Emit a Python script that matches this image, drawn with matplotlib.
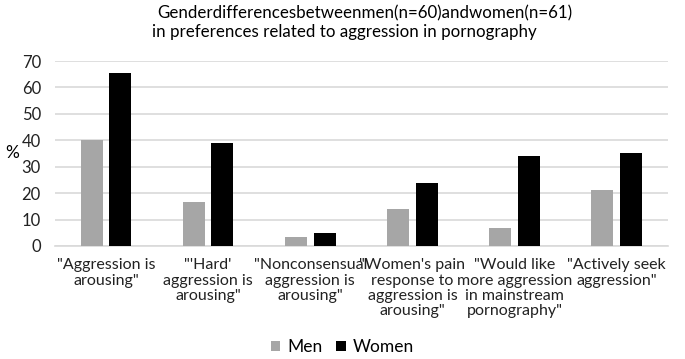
import numpy as np
import matplotlib.pyplot as plt

plt.rcParams['font.family'] = ['Lato', 'DejaVu Sans']

categories = ['"Aggression is\narousing"',
              '"\'Hard\'\naggression is\narousing"',
              '"Nonconsensual\naggression is\narousing"',
              '"Women\'s pain\nresponse to\naggression is\narousing"',
              '"Would like\nmore aggression\nin mainstream\npornography"',
              '"Actively seek\naggression"']
men = [40, 16.5, 3.3, 13.8, 6.6, 21]
women = [65.5, 39, 5, 23.7, 34.2, 35]

fig = plt.figure(figsize=(6.85, 3.59), dpi=100)
ax = fig.add_axes([0.080, 0.315, 0.895, 0.515])

x = np.arange(len(categories))
w = 0.215
off = 0.14
ax.bar(x - off, men, w, color='#a6a6a6', label='Men', zorder=3)
ax.bar(x + off, women, w, color='black', label='Women', zorder=3)

ax.set_xlim(-0.5, len(categories) - 0.5)
ax.set_ylim(0, 70)
ax.set_yticks(range(0, 71, 10))
ax.yaxis.grid(True, color='#d9d9d9', linewidth=1.2, zorder=0)
for s in ['top', 'right', 'left']:
    ax.spines[s].set_visible(False)
ax.spines['bottom'].set_color('#d9d9d9')
ax.spines['bottom'].set_linewidth(1.2)
ax.tick_params(axis='both', length=0, labelsize=11.5, colors='#222222')
ax.tick_params(axis='x', pad=9)
ax.tick_params(axis='y', pad=10)
ax.set_yticklabels([str(v) for v in range(0, 71, 10)], fontsize=12)
ax.set_xticks(x)
ax.set_xticklabels(categories, linespacing=1.12)
ax.set_ylabel('%', rotation=0, fontsize=12.5, va='center')
ax.yaxis.set_label_coords(-0.07, 0.5)

fig.text(0.533, 0.963, 'Genderdifferencesbetweenmen(n=60)andwomen(n=61)',
         ha='center', va='center', fontsize=12.2)
fig.text(0.503, 0.910, 'in preferences related to aggression in pornography',
         ha='center', va='center', fontsize=12.2)

fig.legend(loc='center', bbox_to_anchor=(0.5, 0.033), ncol=2, frameon=False,
           fontsize=12.5, handlelength=0.55, handleheight=0.55, handletextpad=0.4,
           columnspacing=0.8)

fig.savefig('out.png', dpi=100)
